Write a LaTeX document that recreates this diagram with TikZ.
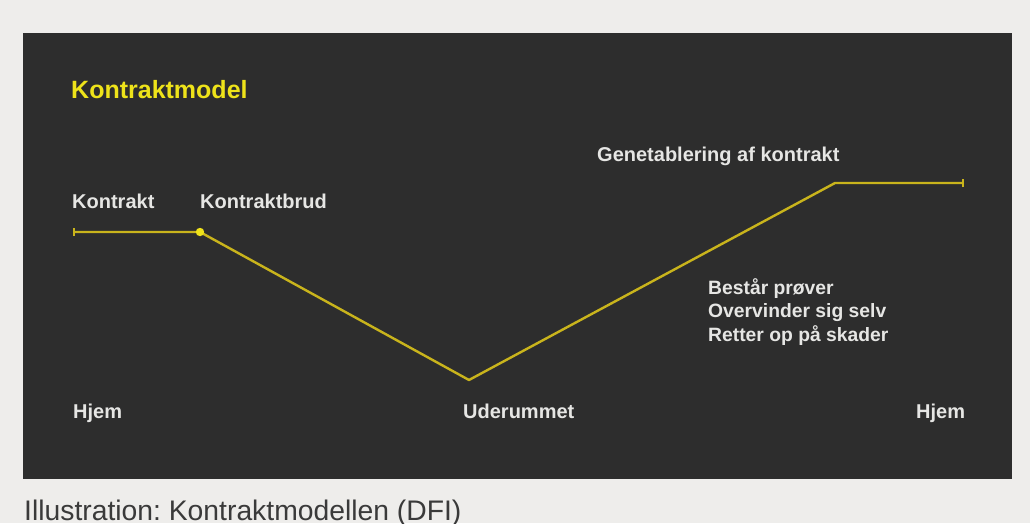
\documentclass[tikz,border=0pt]{standalone}
\usepackage{fontspec}
\setmainfont{Liberation Sans}
\frenchspacing
\definecolor{outerbg}{HTML}{EEEDEB}
\definecolor{panel}{HTML}{2D2D2D}
\definecolor{linecol}{HTML}{C9B41C}
\definecolor{dotcol}{HTML}{EFE21A}
\definecolor{titlecol}{HTML}{EEE31A}
\definecolor{labelcol}{HTML}{E6E6E4}
\definecolor{captioncol}{HTML}{3A3A3A}
\tikzset{
  lbl/.style={anchor=base west, inner sep=0pt, text=labelcol, font=\fontsize{20}{24}\selectfont\bfseries},
  sublbl/.style={anchor=base west, inner sep=0pt, text=labelcol, font=\fontsize{19.3}{23}\selectfont\bfseries},
  pathline/.style={draw=linecol, line width=2.4pt, line join=round},
  endtick/.style={draw=linecol, line width=1.6pt}
}
\begin{document}
\begin{tikzpicture}[x=1pt,y=-1pt]
\useasboundingbox (0,0) rectangle (1030,523);
\fill[outerbg] (0,0) rectangle (1030,523);
\fill[panel] (23,33) rectangle (1012,479);
% title
\node[anchor=base west, inner sep=0pt, text=titlecol, font=\fontsize{25}{29}\selectfont\bfseries] (title) at (71,98) {Kontraktmodel};
% labels
\node[lbl] (kontrakt) at (72,208) {Kontrakt};
\node[lbl] (brud) at (200,208) {Kontraktbrud};
\node[lbl] (genet) at (597,161) {Genetablering af kontrakt};
\node[lbl] (hjem1) at (73,418) {Hjem};
\node[lbl] (uder) at (463,418) {Uderummet};
\node[lbl] (hjem2) at (916,418) {Hjem};
\node[sublbl] (s1) at (708,294) {Består prøver};
\node[sublbl] (s2) at (708,317.5) {Overvinder sig selv};
\node[sublbl] (s3) at (708,341) {Retter op på skader};
% path
\coordinate (p1) at (74,232);
\coordinate (p2) at (200,232);
\coordinate (p3) at (469,380);
\coordinate (p4) at (835,183);
\coordinate (p5) at (963,183);
\draw[pathline] (p1) -- (p2) -- (p3) -- (p4) -- (p5);
\draw[endtick] ([yshift=-4]p1) -- ([yshift=4]p1);
\draw[endtick] ([yshift=-4]p5) -- ([yshift=4]p5);
\fill[dotcol] (p2) circle (4.2);
% caption
\node[anchor=base west, inner sep=0pt, text=captioncol, font=\fontsize{28.3}{33}\selectfont] (caption) at (24,520) {Illustration: Kontraktmodellen (DFI)};
\end{tikzpicture}
\end{document}
